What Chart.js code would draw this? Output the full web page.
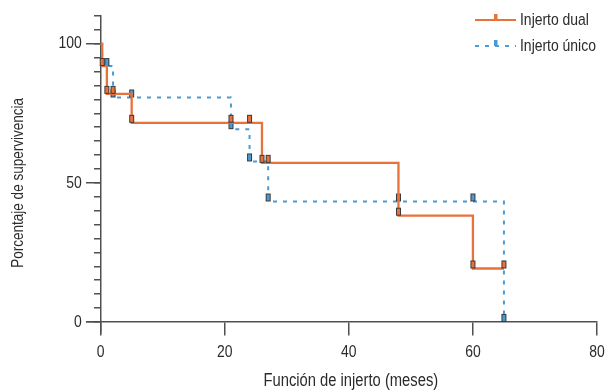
<!DOCTYPE html>
<html>
<head>
<meta charset="utf-8">
<script src="https://cdn.jsdelivr.net/npm/chart.js@4.4.1/dist/chart.umd.min.js"></script>
<style>
  html, body { margin: 0; padding: 0; background: #fff; }
  canvas { display: block; }
</style>
</head>
<body>
<canvas id="kmChart" width="608" height="392"></canvas>
<script>
// Kaplan-Meier steps (months, % survival)
const dualTimes = [0, 0.25, 1, 5, 26, 48, 60, 65];
const dualSurv = [100, 92, 82, 71.6, 57.2, 38.2, 19.2, 19.2];
const singleTimes = [0, 0.25, 2, 21, 24, 27, 65];
const singleSurv = [100, 92, 80.7, 69.3, 57.7, 43.3, 0];

// censored cases (the little tick boxes)
const dualCensored = [0.25, 1, 2, 5, 21, 24, 26, 27, 48, 60, 65];
const singleCensored = [1, 2, 5, 21, 24, 27, 48, 60, 65];

const seriesLabels = ['Injerto dual', 'Injerto único'];
const seriesColors = ['#e8733a', '#4a9ad4'];

const xTicks = [0, 20, 40, 60, 80];
const yTicks = [0, 50, 100];
const yMinorTicks = [0, 5, 10, 15, 20, 25, 30, 35, 40, 45, 50, 55, 60, 65, 70, 75, 80, 85, 90, 95, 100, 105, 110];

const xTitle = 'Función de injerto (meses)';
const yTitle = 'Porcentaje de supervivencia';

// no narrow Helvetica installed, so squeeze Liberation Sans horizontally
const FONT = "'Liberation Sans', Arial, sans-serif";
const SQUEEZE = 0.82;
const TEXT = '#2b2b2b';
const AXIS = '#505050';

function toPoints(times, surv) {
    return times.map((t, i) => ({ x: t, y: surv[i] }));
}

// value of the step curve at time t
function survAt(times, surv, t) {
    let v = surv[0];
    times.forEach((tt, i) => { if (tt <= t) v = surv[i]; });
    return v;
}

function censorMark(color) {
    const c = document.createElement('canvas');
    c.width = 7; c.height = 22;
    const g = c.getContext('2d');
    g.fillStyle = color;
    g.fillRect(1.5, 3.5, 4, 7);
    g.strokeStyle = '#3a3a3a';
    g.lineWidth = 1;
    g.strokeRect(1.5, 3.5, 4, 7);
    return c;
}

function narrowText(ctx, text, x, y, size, align, rot) {
    ctx.save();
    ctx.translate(x, y);
    if (rot) ctx.rotate(rot);
    ctx.scale(SQUEEZE, 1);
    ctx.font = size + 'px ' + FONT;
    ctx.textAlign = align;
    ctx.textBaseline = 'middle';
    ctx.fillStyle = TEXT;
    ctx.fillText(text, 0, 0);
    ctx.restore();
}

const fixedTicks = list => scale => { scale.ticks = list.map(v => ({ value: v })); };

// tick labels, axis titles and legend drawn by hand (legend sits inside the plot area)
const decorPlugin = {
    id: 'decor',
    afterDraw(chart) {
        const ctx = chart.ctx;
        const xs = chart.scales.x, ys = chart.scales.y;
        const x0 = xs.getPixelForValue(0), y0 = ys.getPixelForValue(0);

        xs.ticks.forEach(t => narrowText(ctx, String(t.value), xs.getPixelForValue(t.value), y0 + 30, 17, 'center'));
        ys.ticks.forEach(t => narrowText(ctx, String(t.value), x0 - 19, ys.getPixelForValue(t.value), 17, 'right'));

        const xMid = xs.getPixelForValue((xTicks[0] + xTicks[xTicks.length - 1]) / 2);
        narrowText(ctx, xTitle, xMid + 2, 381, 18, 'center');
        const yMid = ys.getPixelForValue((yTicks[0] + yTicks[yTicks.length - 1]) / 2);
        narrowText(ctx, yTitle, 18, yMid, 16.5, 'center', -Math.PI / 2);

        ctx.save();
        seriesLabels.forEach((label, i) => {
            const y = 20 + i * 26;
            ctx.strokeStyle = seriesColors[i];
            ctx.lineWidth = 2;
            ctx.setLineDash(i === 1 ? [4, 6] : []);
            ctx.beginPath();
            ctx.moveTo(475, y);
            ctx.lineTo(516, y);
            ctx.stroke();
            ctx.setLineDash([]);
            ctx.fillStyle = seriesColors[i];
            ctx.fillRect(494, y - 6, 3.5, 6);
            narrowText(ctx, label, 520, y, 17, 'left');
        });
        ctx.restore();
    }
};

const ctx = document.getElementById('kmChart').getContext('2d');
new Chart(ctx, {
    type: 'scatter',
    data: {
        datasets: [
            {
                label: seriesLabels[0] + ' censurado',
                data: dualCensored.map(t => ({ x: t, y: survAt(dualTimes, dualSurv, t) })),
                pointStyle: censorMark(seriesColors[0]),
                pointRadius: 4
            },
            {
                label: seriesLabels[0],
                data: toPoints(dualTimes, dualSurv),
                showLine: true,
                stepped: true,
                borderColor: seriesColors[0],
                borderWidth: 2.3,
                pointRadius: 0
            },
            {
                label: seriesLabels[1] + ' censurado',
                data: singleCensored.map(t => ({ x: t, y: survAt(singleTimes, singleSurv, t) })),
                pointStyle: censorMark(seriesColors[1]),
                pointRadius: 4
            },
            {
                label: seriesLabels[1],
                data: toPoints(singleTimes, singleSurv),
                showLine: true,
                stepped: true,
                borderColor: seriesColors[1],
                borderWidth: 2,
                borderDash: [4, 6],
                pointRadius: 0
            }
        ]
    },
    options: {
        responsive: false,
        animation: false,
        layout: { padding: { left: 87, right: 11, top: 16, bottom: 59 } },
        plugins: { legend: { display: false }, tooltip: { enabled: false } },
        scales: {
            x: {
                type: 'linear',
                position: { y: 0 },
                min: -2.2,
                max: 80,
                afterBuildTicks: fixedTicks(xTicks),
                grid: { drawOnChartArea: false, tickLength: 13, color: AXIS, lineWidth: 1.5 },
                border: { color: AXIS, width: 1.5 },
                ticks: { display: false }
            },
            y: {
                type: 'linear',
                position: { x: 0 },
                min: -4,
                max: 110,
                afterBuildTicks: fixedTicks(yTicks),
                grid: { drawOnChartArea: false, tickLength: 14, color: AXIS, lineWidth: 1.5 },
                border: { color: AXIS, width: 1.5 },
                ticks: { display: false }
            },
            yMinor: {
                type: 'linear',
                axis: 'y',
                position: { x: 0 },
                min: -4,
                max: 110,
                afterBuildTicks: fixedTicks(yMinorTicks),
                grid: { drawOnChartArea: false, tickLength: 7, color: AXIS, lineWidth: 1.5 },
                border: { display: false },
                ticks: { display: false }
            }
        }
    },
    plugins: [decorPlugin]
});
</script>
</body>
</html>
